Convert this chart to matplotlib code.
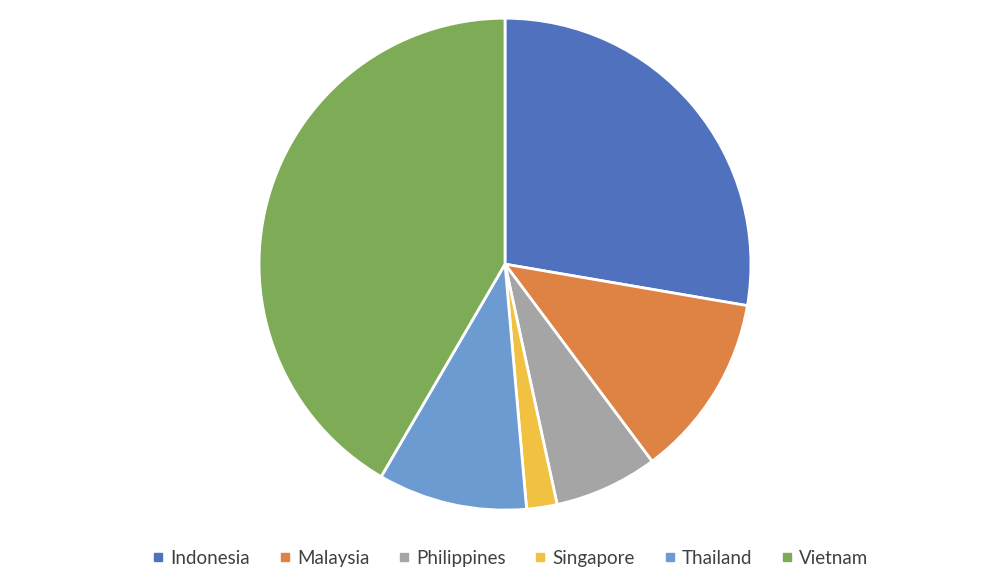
import matplotlib.pyplot as plt

# share by country
countries = ["Indonesia", "Malaysia", "Philippines", "Singapore", "Thailand", "Vietnam"]
shares = [27.7, 12.1, 6.8, 2.0, 9.8, 41.6]
colors = ["#5071BE", "#DF8344", "#A5A5A5", "#F1C242", "#6B9BD1", "#7EAB55"]

plt.rcParams["font.family"] = ["Lato", "DejaVu Sans"]

fig = plt.figure(figsize=(10, 5.87), dpi=100)
ax = fig.add_axes([0.259, 0.131, 0.492, 0.838])

wedges, _ = ax.pie(shares, colors=colors, startangle=90, counterclock=False,
                   radius=1, wedgeprops=dict(edgecolor="white", linewidth=2))
ax.set_xlim(-1.0, 1.0)
ax.set_ylim(-1.0, 1.0)
ax.set_aspect("equal")
ax.axis("off")

handles = [plt.Line2D([], [], marker="s", linestyle="", markersize=6, color=c) for c in colors]
fig.legend(handles, countries, loc="center", bbox_to_anchor=(0.51, 0.049), ncol=6,
           frameon=False, fontsize=13.5, handlelength=0.7, handletextpad=0.3,
           columnspacing=1.5, labelcolor="#404040")

fig.savefig("out.png", dpi=100)
